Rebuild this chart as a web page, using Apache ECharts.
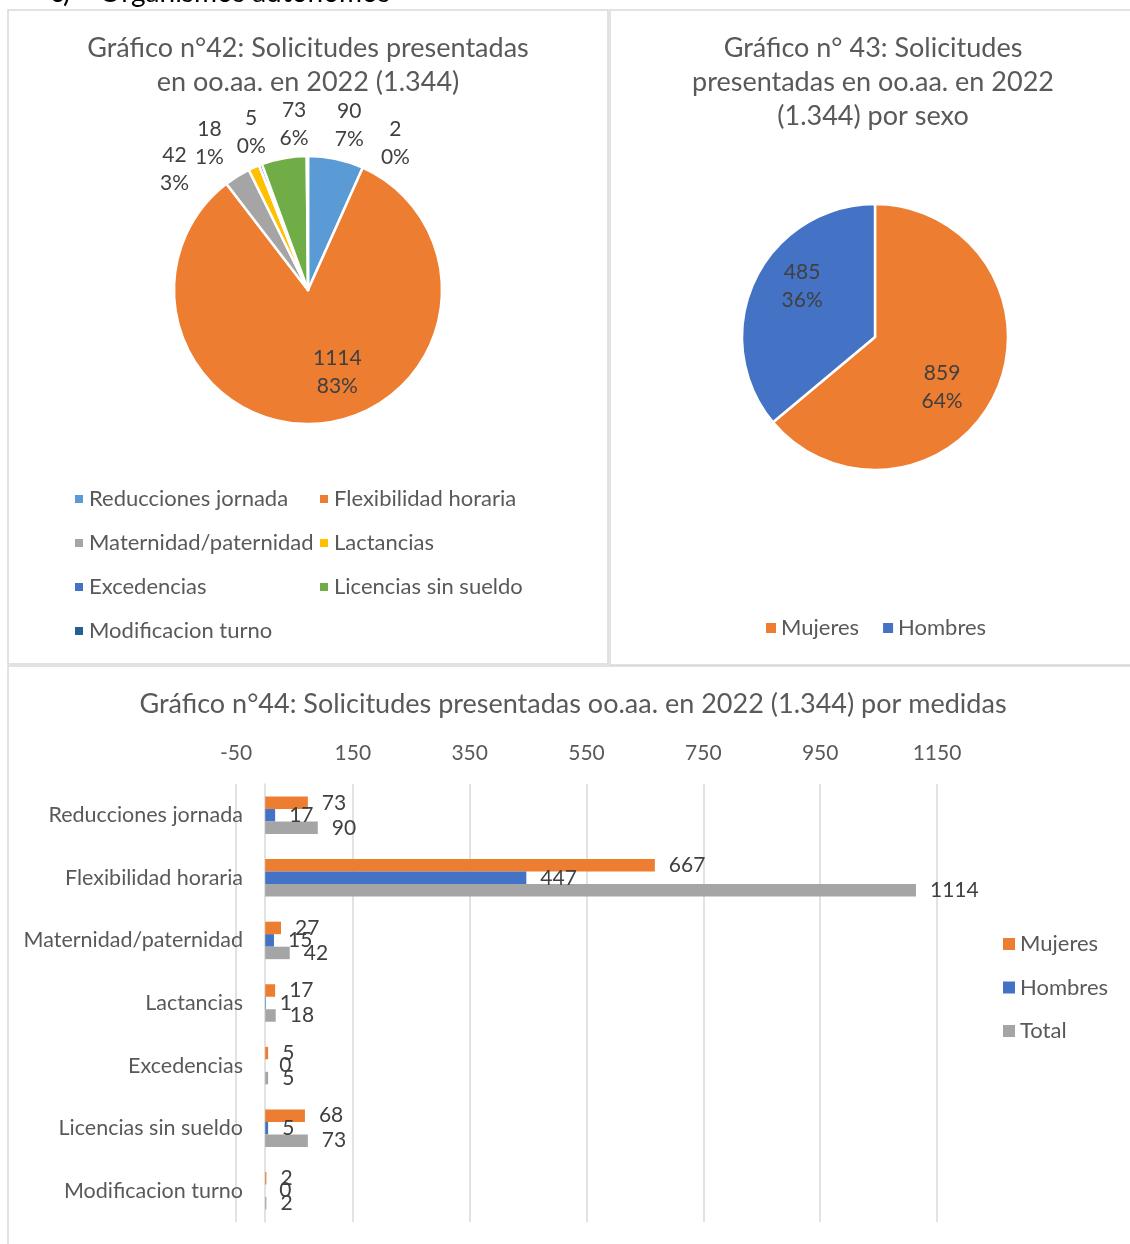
<!DOCTYPE html>
<html>
<head>
<meta charset="utf-8">
<script src="https://cdn.jsdelivr.net/npm/echarts@6/dist/echarts.min.js"></script>
<style>
  html, body { margin: 0; padding: 0; background: #fff; }
  #chart { width: 1130px; height: 1244px; }
</style>
</head>
<body>
<div id="chart"></div>
<script>
// Solicitudes presentadas en organismos autónomos, 2022
const medidas = ['Reducciones jornada', 'Flexibilidad horaria', 'Maternidad/paternidad', 'Lactancias',
                 'Excedencias', 'Licencias sin sueldo', 'Modificacion turno'];
const totalPorMedida   = [90, 1114, 42, 18, 5, 73, 2];
const mujeresPorMedida = [73, 667, 27, 17, 5, 68, 2];
const hombresPorMedida = [17, 447, 15, 1, 0, 5, 0];

const sexos = ['Mujeres', 'Hombres'];
const totalPorSexo = [859, 485];

const serieBarras = ['Mujeres', 'Hombres', 'Total'];

// value axis of the bar chart: -50, 150, ... 1150
const ejeMin = -50;
const ejeMax = 1150;
const ejeIntervalo = 200;

// ---- styling ----
const FONT = 'Lato, "Open Sans", "Noto Sans", sans-serif';
const TITLE_COLOR = '#595959';
const TEXT_COLOR = '#595959';
const LABEL_COLOR = '#404040';
const GRID_COLOR = '#D9D9D9';
const coloresMedidas = ['#5B9BD5', '#ED7D31', '#A5A5A5', '#FFC000', '#4472C4', '#70AD47', '#255E91'];
const coloresSexo = ['#ED7D31', '#4472C4'];
const coloresBarras = ['#ED7D31', '#4472C4', '#A5A5A5'];

const pieA = { cx: 308, cy: 290, r: 134 };
const pieB = { cx: 875, cy: 337, r: 133 };

// label placement around each pie: [angle shift from slice middle (deg), distance from centre (px)]
const ajusteEtiquetasA = [[2, 170], [-13, 87], [-16, 180], [-10, 177], [1, 168], [5.5, 166], [31, 171]];
const ajusteEtiquetasB = [[12, 84], [10, 89]];

function angulosMedios(values) {
  const sum = values.reduce((a, b) => a + b, 0);
  let acc = 0;
  return values.map(v => { const m = (acc + v / 2) / sum * 360; acc += v; return m; });
}

function colocarEtiquetas(values, pie, ajustes) {
  const mids = angulosMedios(values);
  return function (params) {
    const i = params.dataIndex;
    const a = (mids[i] + ajustes[i][0]) * Math.PI / 180;
    const d = ajustes[i][1];
    return {
      x: pie.cx + d * Math.sin(a),
      y: pie.cy - d * Math.cos(a),
      align: 'center',
      verticalAlign: 'middle'
    };
  };
}

const labelPie = {
  show: true,
  formatter: '{c}\n{d}%',
  fontFamily: FONT,
  fontSize: 21,
  lineHeight: 28,
  color: LABEL_COLOR
};

const chart = echarts.init(document.getElementById('chart'), null, { renderer: 'canvas' });

const option = {
  backgroundColor: '#ffffff',
  animation: false,
  textStyle: { fontFamily: FONT },
  graphic: [
    {
      type: 'text', left: 50, top: -21, silent: true,
      style: { text: 'c)    Organismos autónomos', fontFamily: FONT, fontSize: 28, fill: '#000000' }
    },
    { type: 'rect', silent: true, shape: { x: 8, y: 10, width: 600, height: 654 },
      style: { fill: 'none', stroke: GRID_COLOR, lineWidth: 1.5 } },
    { type: 'rect', silent: true, shape: { x: 610, y: 10, width: 530, height: 655 },
      style: { fill: 'none', stroke: GRID_COLOR, lineWidth: 1.5 } },
    { type: 'rect', silent: true, shape: { x: 8, y: 666, width: 1140, height: 600 },
      style: { fill: 'none', stroke: GRID_COLOR, lineWidth: 1.5 } }
  ],
  title: [
    {
      text: 'Gráfico n°42: Solicitudes presentadas\nen oo.aa. en 2022 (1.344)',
      left: 308, top: 31, textAlign: 'center', padding: 0,
      textStyle: { fontFamily: FONT, fontSize: 27, fontWeight: 'normal', color: TITLE_COLOR, lineHeight: 34 }
    },
    {
      text: 'Gráfico n° 43: Solicitudes\npresentadas en oo.aa. en 2022\n(1.344) por sexo',
      left: 873, top: 31, textAlign: 'center', padding: 0,
      textStyle: { fontFamily: FONT, fontSize: 27, fontWeight: 'normal', color: TITLE_COLOR, lineHeight: 34 }
    },
    {
      text: 'Gráfico n°44: Solicitudes presentadas oo.aa. en 2022 (1.344) por medidas',
      left: 573, top: 687, textAlign: 'center', padding: 0,
      textStyle: { fontFamily: FONT, fontSize: 27, fontWeight: 'normal', color: TITLE_COLOR, lineHeight: 34 }
    }
  ],
  legend: [
    {
      seriesIndex: 0,
      data: medidas,
      orient: 'horizontal',
      left: 73, top: 479, width: 490, padding: 0,
      itemWidth: 10, itemHeight: 10, itemGap: 4,
      icon: 'rect', selectedMode: false,
      textStyle: { fontFamily: FONT, fontSize: 22, color: TEXT_COLOR, width: 225, lineHeight: 40, overflow: 'none' }
    },
    {
      data: sexos,
      orient: 'horizontal',
      left: 766, top: 616, padding: 0,
      itemWidth: 10, itemHeight: 10, itemGap: 24,
      icon: 'rect', selectedMode: false,
      textStyle: { fontFamily: FONT, fontSize: 22, color: TEXT_COLOR, lineHeight: 24 }
    },
    {
      data: serieBarras,
      orient: 'vertical',
      left: 1003, top: 932, padding: 0,
      itemWidth: 12, itemHeight: 12, itemGap: 19.5,
      icon: 'rect', selectedMode: false,
      textStyle: { fontFamily: FONT, fontSize: 22, color: TEXT_COLOR, lineHeight: 24 }
    }
  ],
  grid: { left: 236, right: 193, top: 784, bottom: 22, containLabel: false },
  xAxis: {
    type: 'value',
    position: 'top',
    min: ejeMin, max: ejeMax, interval: ejeIntervalo,
    axisLine: { show: false },
    axisTick: { show: false },
    axisLabel: { fontFamily: FONT, fontSize: 21, color: TEXT_COLOR, margin: 20, formatter: v => String(v) },
    splitLine: { show: true, lineStyle: { color: GRID_COLOR, width: 1.5 } }
  },
  yAxis: {
    type: 'category',
    data: medidas,
    inverse: true,
    axisLine: { show: true, onZero: true, lineStyle: { color: GRID_COLOR, width: 1.5 } },
    axisTick: { show: false },
    axisLabel: { fontFamily: FONT, fontSize: 21.5, color: TEXT_COLOR, margin: -7 }
  },
  series: [
    {
      type: 'pie',
      name: 'Medidas',
      center: [pieA.cx, pieA.cy],
      radius: [0, pieA.r],
      startAngle: 90,
      clockwise: true,
      percentPrecision: 0,
      avoidLabelOverlap: false,
      itemStyle: { borderColor: '#ffffff', borderWidth: 2.5 },
      label: labelPie,
      labelLine: { show: false },
      labelLayout: colocarEtiquetas(totalPorMedida, pieA, ajusteEtiquetasA),
      data: medidas.map((m, i) => ({ name: m, value: totalPorMedida[i], itemStyle: { color: coloresMedidas[i] } }))
    },
    {
      type: 'pie',
      name: 'Sexo',
      center: [pieB.cx, pieB.cy],
      radius: [0, pieB.r],
      startAngle: 90,
      clockwise: true,
      percentPrecision: 0,
      avoidLabelOverlap: false,
      itemStyle: { borderColor: '#ffffff', borderWidth: 2.5 },
      label: labelPie,
      labelLine: { show: false },
      labelLayout: colocarEtiquetas(totalPorSexo, pieB, ajusteEtiquetasB),
      data: sexos.map((s, i) => ({ name: s, value: totalPorSexo[i], itemStyle: { color: coloresSexo[i] } }))
    }
  ].concat([mujeresPorMedida, hombresPorMedida, totalPorMedida].map((vals, k) => ({
    type: 'bar',
    name: serieBarras[k],
    data: vals,
    barWidth: 12.5,
    barGap: '0%',
    itemStyle: { color: coloresBarras[k] },
    label: {
      show: true, position: 'right', distance: 14,
      fontFamily: FONT, fontSize: 21, color: LABEL_COLOR
    }
  })))
};

chart.setOption(option);
</script>
</body>
</html>
